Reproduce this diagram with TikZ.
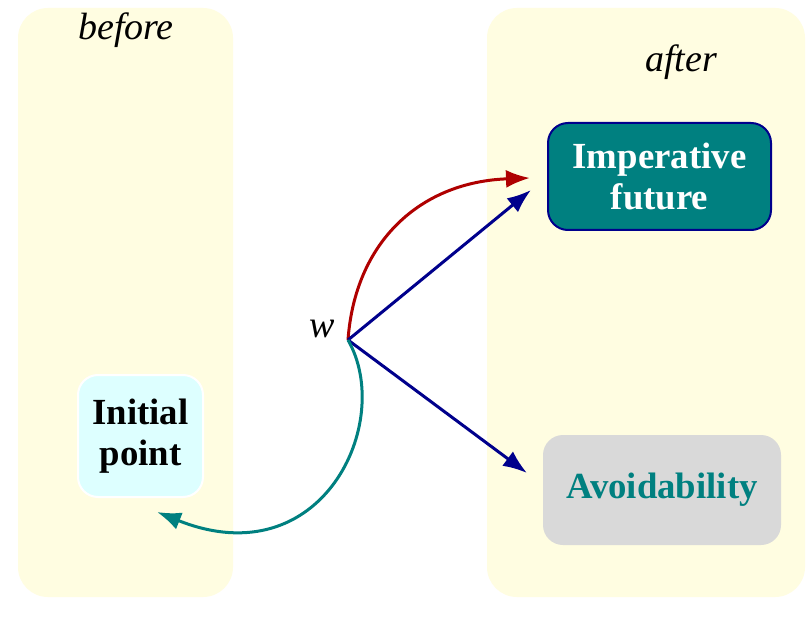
\documentclass[tikz,border=0pt]{standalone}
\usepackage{fontspec}
\setmainfont{Liberation Serif}
\usetikzlibrary{arrows.meta}
\definecolor{panelyellow}{RGB}{255,253,225}
\definecolor{tealgreen}{RGB}{0,128,128}
\definecolor{navyblue}{RGB}{0,0,140}
\definecolor{darkred}{RGB}{175,0,0}
\definecolor{lightcyan}{RGB}{221,255,255}
\definecolor{lightgrey}{RGB}{217,217,217}
\tikzset{
	panel/.style={fill=panelyellow, rounded corners=15pt},
	boxtext/.style={font=\fontsize{18.4}{20.5}\selectfont\bfseries, align=center, rounded corners=10pt},
	label/.style={font=\fontsize{19}{20}\selectfont\itshape},
	link/.style={line width=1.5pt, -{Latex[length=12pt,width=9pt]}}
}
\begin{document}
\begin{tikzpicture}[x=0.5pt, y=0.5pt]
			\useasboundingbox[fill=white] (0,0) rectangle (808,622);
			% before / after
			\fill[panel] (18,25) rectangle (233,614);
			\fill[panel] (487,25) rectangle (805,614);
			\node[label] (before) at (126,592) {before};
			\node[label] (after) at (681,560) {after};
			% states
			\node[boxtext, fill=lightcyan, draw=white, line width=1pt,
				minimum width=62.5pt, minimum height=61pt] (init) at (140.5,186) {Initial\\point};
			\node[boxtext, fill=tealgreen, draw=navyblue, line width=1pt, text=white,
				minimum width=111.5pt, minimum height=53.5pt] (imp) at (659.5,445.5) {Imperative\\future};
			\node[boxtext, fill=lightgrey, text=tealgreen,
				minimum width=119pt, minimum height=55pt] (avoid) at (662,132) {Avoidability};
			% w
			\coordinate (w) at (348,282);
			\node[label, anchor=base east] (wlabel) at (342,285) {w};
			\coordinate (impin1) at (530,444);
			\coordinate (impin2) at (531,432);
			\coordinate (avoidin) at (527,149);
			\coordinate (initin) at (157,110);
			% arrows
			\draw[link, darkred] (w) .. controls (355,380) and (420,440) .. (impin1);
			\draw[link, navyblue] (w) -- (impin2);
			\draw[link, navyblue] (w) -- (avoidin);
			\draw[link, tealgreen] (w) .. controls (395,200) and (322,44) .. (initin);
\end{tikzpicture}
\end{document}
